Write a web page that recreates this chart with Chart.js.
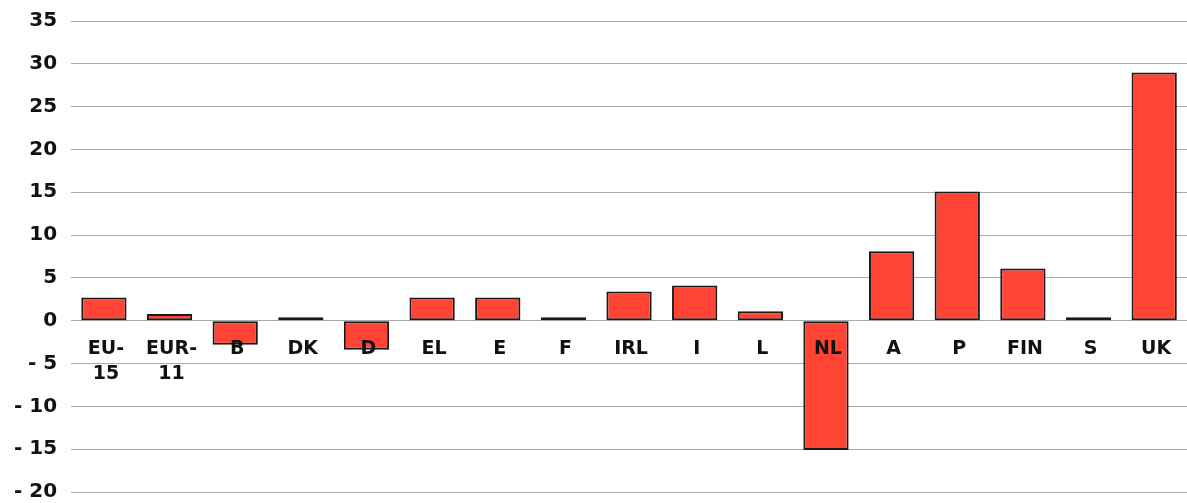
<!DOCTYPE html>
<html>
<head>
<meta charset="utf-8">
<script src="https://cdn.jsdelivr.net/npm/chart.js@4.4.1/dist/chart.umd.min.js"></script>
<style>
  html, body { margin: 0; padding: 0; background: #fff; }
  #wrap { width: 1187px; height: 503px; }
</style>
</head>
<body>
<div id="wrap"><canvas id="myChart"></canvas></div>
<script>
// categories and values
const countries = [['EU-', '15'], ['EUR-', '11'], 'B', 'DK', 'D', 'EL', 'E', 'F', 'IRL', 'I', 'L', 'NL', 'A', 'P', 'FIN', 'S', 'UK']
const values = [2.7, 0.8, -2.8, 0.4, -3.4, 2.7, 2.7, 0.4, 3.4, 4.1, 1.1, -15.1, 8.1, 15.1, 6.1, 0.4, 29.0]
const yMin = -20
const yMax = 35
const yStep = 5

const fontFamily = '"DejaVu Sans", Verdana, sans-serif'

// category labels sit just under the zero line, over the bars
const zeroLabels = {
  id: 'zeroLabels',
  afterDatasetsDraw (chart) {
    const ctx = chart.ctx
    const x = chart.scales.x
    const y = chart.scales.y
    const y0 = y.getPixelForValue(0)
    ctx.save()
    ctx.font = 'bold 19px ' + fontFamily
    ctx.fillStyle = '#111'
    ctx.textAlign = 'center'
    ctx.textBaseline = 'middle'
    countries.forEach((c, i) => {
      const lines = Array.isArray(c) ? c : [c]
      lines.forEach((t, j) => {
        ctx.fillText(t, x.getPixelForValue(i) + 2, y0 + 28 + j * 25)
      })
    })
    ctx.restore()
  }
}

new Chart(document.getElementById('myChart'), {
  type: 'bar',
  data: {
    labels: countries.map(c => Array.isArray(c) ? c.join('') : c),
    datasets: [{
      data: values,
      backgroundColor: '#ff4433',
      borderColor: '#1a1a1a',
      borderWidth: 2,
      borderSkipped: false,
      categoryPercentage: 1,
      barPercentage: 0.69
    }]
  },
  options: {
    responsive: true,
    maintainAspectRatio: false,
    animation: false,
    layout: { padding: { top: 21, left: 0, right: 0, bottom: 11 } },
    plugins: {
      legend: { display: false },
      tooltip: { enabled: false }
    },
    scales: {
      x: {
        display: false
      },
      y: {
        min: yMin,
        max: yMax,
        border: { display: false },
        grid: { color: '#aaa', lineWidth: 1, drawTicks: false },
        afterFit: s => { s.paddingTop = 0; s.paddingBottom = 0 },
        ticks: {
          stepSize: yStep,
          padding: 14,
          color: '#111',
          font: { family: fontFamily, size: 20, weight: 'bold', lineHeight: 1 },
          callback: v => v < 0 ? '- ' + (-v) : String(v)
        }
      }
    }
  },
  plugins: [zeroLabels]
})
</script>
</body>
</html>
